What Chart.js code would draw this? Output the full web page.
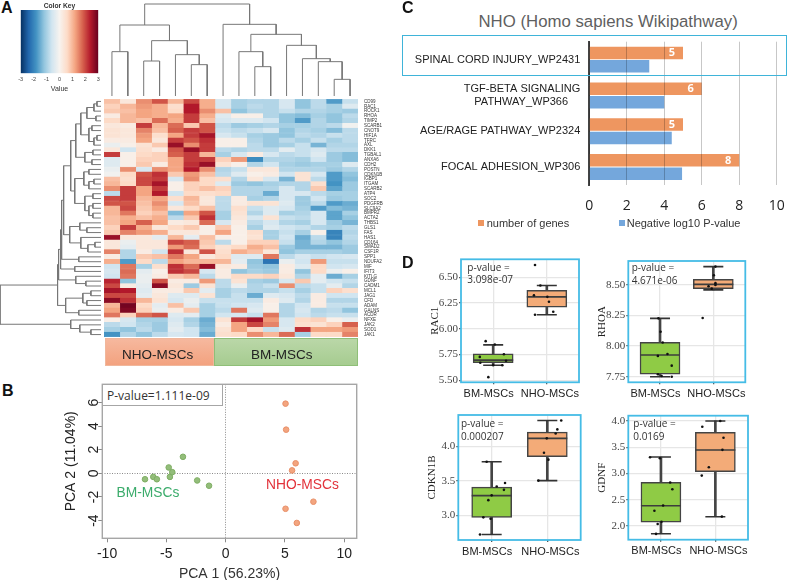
<!DOCTYPE html>
<html>
<head>
<meta charset="utf-8">
<title>NHO-MSCs figure</title>
<script src="https://cdn.jsdelivr.net/npm/chart.js@4"></script>
<style>
  html, body { margin: 0; padding: 0; background: #fff; }
  #page { position: relative; width: 788px; height: 580px; overflow: hidden; font-family: "Liberation Sans", Arial, sans-serif; }
  #page canvas { position: absolute; }
  .txt { position: absolute; white-space: nowrap; transform: translateY(-50%); }
  .letter { font-weight: bold; font-size: 16px; color: #111; }
  .note { font-family: "Open Sans", sans-serif; font-size: 10px; color: #333; }
  .rect { position: absolute; box-sizing: border-box; }
</style>
</head>
<body>
<div id="page"></div>
<script>
// ---- panel A: heatmap data ----
var genes = ["CD99","RAC1","ROCK1","RHOA","TIMP2","SCARB1","CNOT9","HIF1A","TFRC","AXL","DKK1","TGBAL1","ANXA6","CDH2","POSTN","CDKN1B","IGBP1","ITGAM","SCARB2","ATP4","SOC2","PDGFRB","SLC9A2","BMPR2","ACTA2","THBS1","GLS1","FAS","HAS1","CD164","SMAD2","CSF1R","SPP1","NDUFA2","MIF","IFIT3","KITLG","GDNF","CADM1","MCL1","JAG1","CFD","ADAM","GALNS","ACDR","NFXE","JAK2","SOD1","JAK1"];
// one row per gene, first 7 columns NHO-MSCs, last 9 BM-MSCs
var heatValues = [
  [.9,.3,1.4,1.9,1,2,1.1,-.5,-1,-.9,-.9,-.5,-1.2,-.8,-1.7,-.7],
  [.7,1,1.3,1.1,.5,2.4,1.1,-.5,-1,-.8,-.9,-.5,-1.2,-.8,-1,-.4],
  [.8,.9,1.2,1.1,.6,2.4,1.4,.9,-1.2,-.9,-.9,-.7,-.9,-.9,-1,-1.1],
  [.2,1,1.2,1.1,1.2,2.1,1.1,-.4,.1,.1,-.9,-1.2,-1.3,-1,-1.2,-.8],
  [.6,1,.9,1.7,1.1,2.1,.9,-.5,-.4,-.4,-.6,-1.2,-1.7,-.9,-1.2,-.9],
  [.3,.2,2.1,1,1.7,.8,1.9,-.8,-1.1,-1,-.9,-1,-1,-.9,-.8,-.1],
  [.4,.3,1.5,.9,1.8,2.1,1.9,-.7,-.8,-.7,-.5,-1.2,-.9,-1,-1.3,-.8],
  [.4,.3,1.3,.5,1.2,2.1,2.5,-.5,-.7,-1,-1.1,-1.2,-.8,-.9,-.7,-.8],
  [.2,.2,1.2,.3,2.1,1.9,2.2,.1,.1,-.9,-1.1,-.8,-1,-.7,-1,-.8],
  [-.2,.1,.4,.8,2.6,1.4,2.1,.1,.1,-.8,-1.1,-1,-.7,-1.4,-.9,-.9],
  [.3,-.6,.5,.2,1.9,2.6,2.1,-.8,-.9,-.8,-.8,-.3,-.7,-.5,-.8,-.8],
  [2.1,.1,.6,.7,1.8,2.1,1,-1,-.5,.2,-.5,-.8,-.7,-.4,-1.1,-1.3],
  [-.4,.1,.7,.7,1.2,2.1,2.1,.7,1.3,-1.9,-.9,-.9,-1,-.6,-1.1,-1.3],
  [-.4,.1,.8,.2,1.2,2.2,2.6,.4,.1,-.9,-.6,-1,-1.1,-1,-1,-.4],
  [-.2,1.4,-.5,1.4,1.2,2.4,1.4,-.9,-.7,.3,.3,-.9,-.9,-.9,-1.1,-.9],
  [-.1,.6,1.9,2.2,.8,1.3,.9,-.8,-.4,.1,.2,-.6,.4,-.5,-1.7,-1.2],
  [.9,.5,2,2.1,-.5,1.4,.6,.5,-.9,.3,-.5,-1.4,.4,-.8,-1.7,-1.3],
  [1,.6,2,2.5,.1,.7,.6,-.4,-1.1,-1.2,-1,-.9,-.9,.5,-1.8,-1.1],
  [1.4,2.1,1.2,2.1,.1,.7,.9,.7,-.9,-.9,-.9,-.5,-.9,.8,-1.6,-1.1],
  [-.8,2.1,1.2,2.4,-.6,.6,.5,.6,-.9,-.9,-1.5,-.5,-.5,-.8,-1,-1],
  [2,2.1,1,1.2,.5,1,.3,-.8,.2,-1,-.9,-.5,-1.1,-.6,-1.1,-1],
  [1.9,1.9,.9,1.4,-.5,.9,.3,-.8,.2,.4,.4,-.4,-1.1,-.8,-1.7,-1.5],
  [1,2,.8,1.2,.3,.6,.9,-.8,.5,-.7,-.4,-.5,-1,-1.7,-1.3,-1.4],
  [1,1.6,.7,.9,-1.3,1.2,1.9,-1,.4,-.9,-.4,-1,-.9,-.5,-1.6,-1],
  [.9,1.1,.9,1.1,-.8,.8,2.2,-1,.3,-.5,.4,-.7,-.8,-.5,-1.6,-1.2],
  [.9,1.2,1.8,1.2,.2,.3,1.7,-.5,.2,-.8,-.5,-.9,-1,-.5,-1.1,-1.4],
  [.7,2.1,1.1,.3,.6,.8,.1,.8,.1,-1,-.4,-.6,-.7,-.9,-1,-.8],
  [.8,1.5,1.3,1.1,.3,.3,.1,1.2,.1,.5,-1,-.7,-1,.1,-2,-.9],
  [2.6,.3,.3,-.3,1,-.3,.9,.1,.1,.4,-1,-.6,-1.5,-.8,-2,-.8],
  [.3,-.2,.3,.3,2,1.8,.8,-.8,.1,.7,.7,-.7,-1.4,-.9,-1.2,-.9],
  [.3,-.3,.3,.3,1.3,1.7,.7,.4,.6,1.1,.9,-1.1,-1.4,-1.4,-1.4,-1.1],
  [1.5,-.9,.2,-.6,2.2,.3,1.9,.5,1.1,.9,.3,-1.2,-1,-1,-1,-1.1],
  [.2,-.9,.8,.9,1.6,1.2,.3,.6,-.4,-.4,1.6,-.8,-.5,-.7,-.6,-.5],
  [1.1,-1.7,.6,-.8,1.2,1,1,1,-.3,-1.2,-2.2,-.2,-.6,1.3,-.7,-.7],
  [-.6,1.6,-1,.5,2.2,1.7,2.6,.3,.2,-1.1,-1.2,.2,-.4,.6,-.6,-.5],
  [-.5,1.7,-.3,.1,2.2,2,-.5,.2,-1.2,-1,-1.1,.2,-1.2,.6,-.2,.1],
  [-.6,1.6,-.2,.2,.8,1,-.8,.2,.6,.6,.7,.3,-.9,-.3,-1.5,-1],
  [2.3,-1.2,-.2,1.9,.2,.2,1.3,-.8,.4,-1,-1.1,-.5,.8,-.3,-.6,-.7],
  [2,.2,-.3,2.7,.3,-1.1,.4,-.8,-.2,-.9,-.7,1.4,-.8,-.7,-.3,-.9],
  [2.5,2.4,-.4,.2,.2,.8,-.3,-1,-.8,-.9,-.9,-.7,-1,-.7,.7,.5],
  [2,2,-.3,.3,-.4,-.4,.4,-1,-.7,-1.5,-.4,-.5,-.8,.2,-.6,-.6],
  [2.7,2.2,1,.4,-.5,-.2,-.7,-.7,-.7,-.7,.2,-.4,-.9,.2,-.9,-.9],
  [1,2.9,.6,-.3,.9,-.3,-1,-.7,-.6,-.5,.1,-.9,-.6,.2,-.7,-.7],
  [1.2,2.8,.7,-.2,.2,.8,-1,-.8,1.6,-.4,.1,-.9,-.5,-.9,-.8,-1.2],
  [1.6,.7,1.7,1.9,-.4,-.3,-1,-.6,-.5,-.7,1.6,-.9,-.6,-.8,-.7,-.7],
  [.1,-.5,-1,-1,-.5,-1,-1.5,.4,2.1,2.5,1.3,-.5,.6,.7,.1,-.2],
  [-.8,-.6,-.9,-1.1,-.4,-.9,-1.4,.2,1.2,2,1.5,-.5,.5,.4,.7,1.8],
  [-1,-1.2,-.8,-1.1,-.3,-.6,-1.3,.4,1.2,.6,-.7,-.4,2.2,1.2,1.2,1.3],
  [-1.8,-.9,-1.2,-.8,-.5,-.6,-1.5,.5,.6,1.4,1,1.7,-1,.6,.6,1.5]
];
var keyValues = [-3, -2.4, -1.8, -1.2, -.6, 0, .6, 1.2, 1.8, 2.4, 3];
var keyColors = ["#053061","#2166ac","#4393c3","#92c5de","#d1e5f0","#f7f3ef","#fddbc7","#f4a582","#d6604d","#b2182b","#67001f"];
// dendrograms: [height, left, right], a plain number is a leaf
var topTree = [276, [213, [133,0,1], [166,[105,2,3],[124,4,[94,5,6]]]], [215,7,[185,[133,8,[88,9,10]],[152,11,[112,12,[103,13,[50,14,15]]]]]]];
var leftTree = [100,
  [43,
    [42,
      [40,
        [39,
          [37,
            [30,
              [25, [20, [14,[7,[4,0,1],2],[5,3,4]], [12,[9,5,6],[7,[4,7,8],9]]], [16,[8,10,11],[9,12,13]]],
              [26, [17,[12,14,15],[12,[7,16,17],18]], [16,[8,19,20],[12,[8,21,22],[8,23,24]]]]
            ],
            [31, [21,25,[14,26,27]], [20,28,[13,[6,29,30],31]]]
          ],
          [22,32,33]
        ],
        [26,34,35]
      ],
      [25,36,[15,37,38]]
    ],
    [35,[18,[10,39,40],[14,41,42]],[22,43,44]]
  ],
  [30,45,[21,46,[10,47,48]]]
];

// ---- panel B: PCA ----
var pcaBmX = [-6.8,-6.1,-5.8,-4.8,-4.7,-4.5,-3.6,-2.4,-1.4];
var pcaBmY = [-.5,-.3,-.5,.5,-.3,.1,1.4,-.6,-1.05];
var pcaNhoX = [5.05,5.1,5.9,5.6,7.4,5.05,6];
var pcaNhoY = [5.9,3.7,.85,.25,-2.4,-3,-4.2];
var pcaXTicks = [-10,-5,0,5,10];
var pcaYTicks = [-4,-2,0,2,4,6];

// ---- panel C: pathways ----
var pathways = ["SPINAL CORD INJURY_WP2431", ["TGF-BETA SIGNALING","PATHWAY_WP366    "], "AGE/RAGE PATHWAY_WP2324", "FOCAL ADHESION_WP306"];
var geneCounts = [5, 6, 5, 8];
var negLogP = [3.2, 4, 4.4, 4.95];

// ---- panel D: box plots, each box is [low, q1, median, q3, high] ----
var groups = ["BM-MSCs", "NHO-MSCs"];
var rac1Box = [[5.646,5.67,5.695,5.757,5.844],[6.136,6.21,6.31,6.373,6.42]];
var rac1Points = [[-.14,5.88],[.03,5.847],[.2,5.753],[-.25,5.727],[.24,5.69],[-.24,5.67],[0,5.646],[.17,5.646],[-.09,5.53],[.78,6.62],[.88,6.42],[.76,6.325],[1.01,6.31],[1.04,6.263],[1.12,6.166],[.78,6.136]];
var rac1Ticks = [5.5,5.75,6,6.25,6.5];
var rhoaBox = [[7.75,7.77,7.927,8.03,8.227],[8.46,8.47,8.505,8.546,8.65]];
var rhoaPoints = [[-.03,8.227],[.01,8.118],[.05,8.03],[-.04,7.92],[.14,7.935],[.22,7.84],[-.04,7.77],[.03,7.755],[.22,7.75],[1.04,8.65],[1.01,8.58],[.91,8.49],[1.04,8.515],[1.04,8.5],[.97,8.47],[.8,8.23]];
var rhoaTicks = [7.75,8,8.25,8.5];
var cdknBox = [[2.72,2.97,3.286,3.41,3.78],[3.505,3.855,4.12,4.21,4.38]];
var cdknPoints = [[-.09,3.78],[.24,3.47],[.09,3.42],[.22,3.37],[0,3.29],[-.06,3.22],[-.15,2.97],[-.02,2.95],[-.21,2.72],[1.25,4.38],[1.18,4.25],[1.15,4.19],[.99,4.12],[.94,3.91],[1.02,3.81],[.84,3.505]];
var cdknTicks = [3,3.5,4];
var gdnfBox = [[1.854,2.076,2.387,2.83,3.314],[2.178,3.035,3.448,3.784,4]];
var gdnfPoints = [[-.2,3.31],[-.02,3.29],[.17,2.83],[.21,2.7],[.04,2.39],[-.12,2.29],[.01,2.08],[-.06,2.04],[-.09,1.85],[1.09,4],[.76,3.89],[1.15,3.68],[1.13,3.45],[.88,3.12],[.75,2.96],[1.12,2.18]];
var gdnfTicks = [2,2.5,3,3.5,4];

var page = document.getElementById('page');
var SANS = '"Liberation Sans", Arial, sans-serif';
var SERIF = '"Liberation Serif", "Times New Roman", serif';
Chart.defaults.animation = false;
Chart.defaults.responsive = false;
Chart.defaults.plugins.legend.display = false;
Chart.defaults.plugins.tooltip.enabled = false;
Chart.defaults.font.family = SANS;

function addCanvas(x, y, w, h) {
  var c = document.createElement('canvas');
  c.width = w; c.height = h;
  c.style.left = x + 'px'; c.style.top = y + 'px';
  c.style.width = w + 'px'; c.style.height = h + 'px';
  page.appendChild(c);
  return c;
}
function addText(text, x, y, css, cls) {
  var d = document.createElement('div');
  d.className = 'txt ' + (cls || '');
  d.textContent = text;
  d.style.cssText = 'left:' + x + 'px;top:' + y + 'px;' + (css || '');
  page.appendChild(d);
  return d;
}
function addRect(x, y, w, h, css) {
  var d = document.createElement('div');
  d.className = 'rect';
  d.style.cssText = 'left:' + x + 'px;top:' + y + 'px;width:' + w + 'px;height:' + h + 'px;' + css;
  page.appendChild(d);
}
function hexRgb(h) { return [1, 3, 5].map(function (i) { return parseInt(h.substr(i, 2), 16); }); }
function heatColor(v) {
  v = Math.max(-3, Math.min(3, v));
  var i = 0;
  while (i < keyValues.length - 2 && v > keyValues[i + 1]) i++;
  var t = (v - keyValues[i]) / (keyValues[i + 1] - keyValues[i]);
  var a = hexRgb(keyColors[i]), b = hexRgb(keyColors[i + 1]);
  return 'rgb(' + a.map(function (c, k) { return Math.round(c + (b[k] - c) * t); }).join(',') + ')';
}
function forceTicks(list) {
  return function (scale) { scale.ticks = list.map(function (v) { return { value: v }; }); };
}
// fixed axis size, and no extra room for the first and last tick label
function fitHeight(h) {
  return function (s) { s.height = h; s.paddingLeft = s.paddingRight = s.paddingTop = s.paddingBottom = 0; };
}
function fitWidth(w) {
  return function (s) { s.width = w; s.paddingLeft = s.paddingRight = s.paddingTop = s.paddingBottom = 0; };
}
// outline round the plot area
var framePlugin = {
  id: 'frame',
  afterDraw: function (chart, args, opts) {
    var a = chart.chartArea, ctx = chart.ctx;
    ctx.save();
    ctx.strokeStyle = opts.color;
    ctx.lineWidth = opts.width;
    ctx.strokeRect(a.left, a.top, a.right - a.left, a.bottom - a.top);
    ctx.restore();
  }
};

// ---- colour key ----
new Chart(addCanvas(15, 0, 90, 95), {
  type: 'bar',
  data: {
    labels: ['Value'],
    datasets: [{
      data: [[-3, 3]],
      barPercentage: 1, categoryPercentage: 1,
      backgroundColor: function (c) {
        var a = c.chart.chartArea;
        if (!a) return keyColors[5];
        var g = c.chart.ctx.createLinearGradient(a.left, 0, a.right, 0);
        keyColors.forEach(function (col, i) { g.addColorStop((keyValues[i] + 3) / 6, col); });
        return g;
      }
    }]
  },
  options: {
    indexAxis: 'y',
    layout: { padding: { left: 5.7, right: 6.7 } },
    plugins: { title: { display: true, text: 'Color Key', color: '#333', font: { size: 6.7, weight: 'bold' }, padding: { top: 2, bottom: 0 } } },
    scales: {
      y: { display: false },
      x: {
        min: -3, max: 3,
        afterFit: fitHeight(21.7),
        grid: { display: false, drawTicks: true, tickLength: 2, tickColor: '#555' },
        border: { display: false },
        ticks: { stepSize: 1, font: { size: 5.5 }, color: '#444', padding: 1 },
        title: { display: true, text: 'Value', color: '#333', font: { size: 7 }, padding: { top: 0, bottom: 1.8 } }
      }
    }
  }
});

// ---- dendrograms ----
function treeBrackets(node, horizontal, out) {
  if (typeof node === 'number') return { pos: node, h: 0 };
  var l = treeBrackets(node[1], horizontal, out);
  var r = treeBrackets(node[2], horizontal, out);
  var pts = [[l.pos, l.h], [l.pos, node[0]], [r.pos, node[0]], [r.pos, r.h]];
  out.push({
    data: pts.map(function (p) { return horizontal ? { x: p[1], y: p[0] } : { x: p[0], y: p[1] }; }),
    showLine: true, pointRadius: 0, borderColor: '#777', borderWidth: 1, clip: false
  });
  return { pos: (l.pos + r.pos) / 2, h: node[0] };
}
var topSets = [];
treeBrackets(topTree, false, topSets);
new Chart(addCanvas(104, 0, 254, 96), {
  type: 'scatter',
  data: { datasets: topSets },
  options: { layout: { autoPadding: false }, scales: {
    x: { display: false, min: -.5, max: 15.5 },
    y: { display: false, min: 0, max: 288 }
  } }
});
var leftSets = [];
treeBrackets(leftTree, true, leftSets);
new Chart(addCanvas(0, 99, 101, 238), {
  type: 'scatter',
  data: { datasets: leftSets },
  options: { layout: { autoPadding: false }, scales: {
    x: { display: false, min: 0, max: 100, reverse: true },
    y: { display: false, min: -.5, max: 48.5, reverse: true }
  } }
});

// ---- heatmap, stacked bars one dataset per column ----
var heatSets = heatValues[0].map(function (_, col) {
  var colors = heatValues.map(function (row) { return heatColor(row[col]); });
  return {
    data: heatValues.map(function () { return 1; }),
    backgroundColor: colors, borderColor: colors, borderWidth: .5, borderSkipped: false,
    barPercentage: 1, categoryPercentage: 1
  };
});
new Chart(addCanvas(104, 99, 284, 238), {
  type: 'bar',
  data: { labels: genes, datasets: heatSets },
  options: {
    indexAxis: 'y',
    scales: {
      x: { display: false, stacked: true, min: 0, max: 16 },
      y: {
        stacked: true, position: 'right',
        afterFit: fitWidth(30),
        grid: { display: false, drawTicks: false }, border: { display: false },
        ticks: { autoSkip: false, font: { size: 4.5 }, color: '#333', padding: 6, minRotation: 0, maxRotation: 0 }
      }
    }
  }
});
addRect(105, 338, 109, 28, 'background:linear-gradient(#f6b89e,#f3a27f);border:1px solid #f0b79c;');
addRect(214, 338, 144, 28, 'background:linear-gradient(#bad7a8,#a6cc90);border:1px solid #8fbf78;');
addText('NHO-MSCs', 122, 354, 'font-size:13.5px;color:#222;');
addText('BM-MSCs', 251, 354, 'font-size:13.5px;color:#222;');

// ---- panel B ----
function toXY(xs, ys) { return xs.map(function (x, i) { return { x: x, y: ys[i] }; }); }
var pcaYLabels = {
  id: 'pcaYLabels',
  afterDraw: function (chart) {
    var s = chart.scales.y, ctx = chart.ctx;
    ctx.save();
    ctx.font = '14px ' + SANS;
    ctx.fillStyle = '#222';
    ctx.textAlign = 'center';
    ctx.textBaseline = 'middle';
    s.ticks.forEach(function (t, i) {
      ctx.save();
      ctx.translate(34, s.getPixelForTick(i));
      ctx.rotate(-Math.PI / 2);
      ctx.fillText(String(t.value), 0, 0);
      ctx.restore();
    });
    ctx.restore();
  }
};
var pcaZeroGrid = function (c) { return c.tick && c.tick.value === 0 ? '#8a8a8a' : 'transparent'; };
new Chart(addCanvas(60, 380, 305, 203), {
  type: 'scatter',
  data: { datasets: [
    { data: toXY(pcaBmX, pcaBmY), pointRadius: 2.8, backgroundColor: '#93bd7a', borderColor: '#7fae64', borderWidth: 1 },
    { data: toXY(pcaNhoX, pcaNhoY), pointRadius: 2.8, backgroundColor: '#f3a57f', borderColor: '#e8906a', borderWidth: 1 }
  ] },
  plugins: [framePlugin, pcaYLabels],
  options: {
    layout: { autoPadding: false, padding: { top: 4.3, right: 8.3 } },
    plugins: { frame: { color: '#a6a6a6', width: 1.4 } },
    scales: {
      x: {
        min: -10.4, max: 11.05,
        afterBuildTicks: forceTicks(pcaXTicks),
        afterFit: fitHeight(44.7),
        grid: { color: pcaZeroGrid, tickColor: '#8a8a8a', tickLength: 4 },
        border: { display: false, dash: [1, 1.5] },
        ticks: { font: { size: 14 }, color: '#222', padding: 3, maxRotation: 0 },
        title: { display: true, text: 'PCA 1 (56.23%)', color: '#333', font: { size: 14 }, padding: 0 }
      },
      y: {
        min: -5.5, max: 7.54,
        afterBuildTicks: forceTicks(pcaYTicks),
        afterFit: fitWidth(42.3),
        grid: { color: pcaZeroGrid, tickColor: '#8a8a8a', tickLength: 4 },
        border: { display: false, dash: [1, 1.5] },
        ticks: { display: false },
        title: { display: true, text: 'PCA 2 (11.04%)', color: '#222', font: { size: 14 }, padding: { top: 2.3, bottom: 0 } }
      }
    }
  }
});
addRect(102.3, 384.3, 121, 21.4, 'background:#fff;border:1px solid #a6a6a6;');
addText('P-value=1.111e-09', 107, 395, 'font-family:"Open Sans",sans-serif;font-size:12px;color:#333;');
addText('BM-MSCs', 116.5, 491.7, 'font-size:13.8px;color:#3cac6c;');
addText('NHO-MSCs', 266, 484.3, 'font-size:13.8px;color:#e2333b;');

// ---- panel C ----
var barValueLabels = {
  id: 'barValueLabels',
  afterDraw: function (chart) {
    var ctx = chart.ctx;
    ctx.save();
    ctx.font = 'bold 11px "Open Sans", sans-serif';
    ctx.fillStyle = '#fff';
    ctx.textAlign = 'center';
    ctx.textBaseline = 'middle';
    chart.getDatasetMeta(0).data.forEach(function (bar, i) {
      ctx.fillText(geneCounts[i], bar.x - 11, bar.y);
    });
    ctx.restore();
  }
};
new Chart(addCanvas(400, 37, 388, 190), {
  type: 'bar',
  data: { labels: pathways, datasets: [
    { label: 'number of genes', data: geneCounts, backgroundColor: '#ee9660' },
    { label: 'Negative log10 P-value', data: negLogP, backgroundColor: '#74a7dc' }
  ] },
  plugins: [barValueLabels],
  options: {
    indexAxis: 'y',
    layout: { padding: { top: 4.7, right: 11.3 } },
    datasets: { bar: { categoryPercentage: .75, barPercentage: .93 } },
    scales: {
      x: {
        min: 0, max: 10,
        afterFit: fitHeight(42),
        grid: { color: 'rgba(0,0,0,.22)', z: 1, drawTicks: false },
        border: { display: false },
        ticks: { stepSize: 2, font: { size: 14, family: '"Open Sans", sans-serif' }, color: '#222', padding: 13 }
      },
      y: {
        afterFit: fitWidth(189.3),
        grid: { display: false, drawTicks: false },
        border: { color: '#444', width: 2 },
        ticks: { font: { size: 11 }, color: '#222', padding: 9, autoSkip: false }
      }
    }
  }
});
addText('NHO (Homo sapiens Wikipathway)', 478.5, 22, 'font-size:16.8px;color:#5f5f5f;');
addRect(401.7, 35, 385.6, 41.3, 'border:1.5px solid #3fb4d9;');
addRect(478.3, 219.7, 6, 6, 'background:#ee9660;');
addText('number of genes', 486.7, 222.7, 'font-size:11px;color:#333;');
addRect(619, 219.7, 6, 6, 'background:#74a7dc;');
addText('Negative log10 P-value', 626.7, 222.7, 'font-size:11px;color:#333;');

// ---- panel D ----
function pick(box, k) {
  return box.map(function (b, g) { return { x: g, y: b[k] }; });
}
function boxChart(gene, box, points, ticks, digits, area, yRange, xRange) {
  var cx = Math.floor(area.x0 - 32), cy = Math.floor(area.y0 - 4);
  var cw = Math.ceil(area.x1 + 10 - cx), ch = Math.ceil(area.y1 + 24 - cy);
  new Chart(addCanvas(cx, cy, cw, ch), {
    type: 'bar',
    data: { datasets: [
      { data: box.map(function (b, g) { return { x: g, y: [b[0], b[4]] }; }), grouped: false, barPercentage: 1, categoryPercentage: 1, maxBarThickness: 2, backgroundColor: '#444', order: 5 },
      { data: box.map(function (b, g) { return { x: g, y: [b[1], b[3]] }; }), grouped: false, barPercentage: 1, categoryPercentage: 1, maxBarThickness: 40, backgroundColor: ['#8fcb45', '#f3ab78'], borderColor: '#444', borderWidth: 1.5, borderSkipped: false, order: 4 },
      { type: 'scatter', data: pick(box, 0).concat(pick(box, 4)), pointStyle: 'line', pointRadius: 10, pointBorderWidth: 1.6, pointBorderColor: '#333', order: 3 },
      { type: 'scatter', data: pick(box, 2), pointStyle: 'line', pointRadius: 20, pointBorderWidth: 1.6, pointBorderColor: '#3d3d3d', order: 2 },
      { type: 'scatter', data: points.map(function (p) { return { x: p[0], y: p[1] }; }), pointRadius: 1.3, backgroundColor: '#111', borderWidth: 0, order: 1 }
    ] },
    plugins: [framePlugin],
    options: {
      layout: { autoPadding: false, padding: { top: area.y0 - cy, right: cx + cw - area.x1 } },
      plugins: { frame: { color: '#45bce6', width: 1.8 } },
      scales: {
        x: {
          type: 'linear', offset: false, min: xRange[0], max: xRange[1],
          afterBuildTicks: forceTicks([0, 1]),
          afterFit: fitHeight(cy + ch - area.y1),
          grid: { color: '#e6e6e6', lineWidth: 1.3, offset: false, tickColor: '#555', tickLength: 2 },
          border: { display: false },
          // spaces push the two labels a little apart, the ticks are too close for them
          ticks: { callback: function (v) { return v === 0 ? groups[0] + '   ' : '  ' + groups[1]; }, font: { size: 11 }, color: '#222', padding: 3, maxRotation: 0 }
        },
        y: {
          min: yRange[0], max: yRange[1],
          afterBuildTicks: forceTicks(ticks),
          afterFit: fitWidth(area.x0 - cx),
          grid: { color: '#e6e6e6', lineWidth: 1.3, tickColor: '#555', tickLength: 2 },
          border: { display: false },
          ticks: { callback: function (v) { return v.toFixed(digits); }, font: { size: 11, family: SERIF }, color: '#444', padding: 1 },
          title: { display: true, text: gene, color: '#222', font: { size: 11, family: SERIF }, padding: { top: 0, bottom: 0 } }
        }
      }
    }
  });
}
boxChart('RAC1', rac1Box, rac1Points, rac1Ticks, 2, { x0: 461, x1: 579, y0: 259.3, y1: 382.3 }, [5.48, 6.675], [-.6, 1.6]);
boxChart('RHOA', rhoaBox, rhoaPoints, rhoaTicks, 2, { x0: 628.3, x1: 745.3, y0: 261, y1: 382.3 }, [7.704, 8.696], [-.595, 1.6]);
boxChart('CDKN1B', cdknBox, cdknPoints, cdknTicks, 1, { x0: 458.3, x1: 580.7, y0: 415, y1: 540 }, [2.64, 4.46], [-.6, 1.6]);
boxChart('GDNF', gdnfBox, gdnfPoints, gdnfTicks, 1, { x0: 628.3, x1: 748, y0: 415.7, y1: 539.7 }, [1.74, 4.1], [-.6, 1.6]);
addText('p-value =', 467.3, 266.7, '', 'note');
addText('3.098e-07', 467.3, 279.3, '', 'note');
addText('p-value =', 631.7, 266.7, '', 'note');
addText('4.671e-06', 631.7, 279.7, '', 'note');
addText('p-value =', 461, 422.7, '', 'note');
addText('0.000207', 461, 436, '', 'note');
addText('p-value =', 633.3, 423, '', 'note');
addText('0.0169', 633.3, 436.3, '', 'note');

// panel letters
addText('A', 1, 8, '', 'letter');
addText('B', 2, 391, '', 'letter');
addText('C', 402, 8, '', 'letter');
addText('D', 402, 263, '', 'letter');
</script>
</body>
</html>
